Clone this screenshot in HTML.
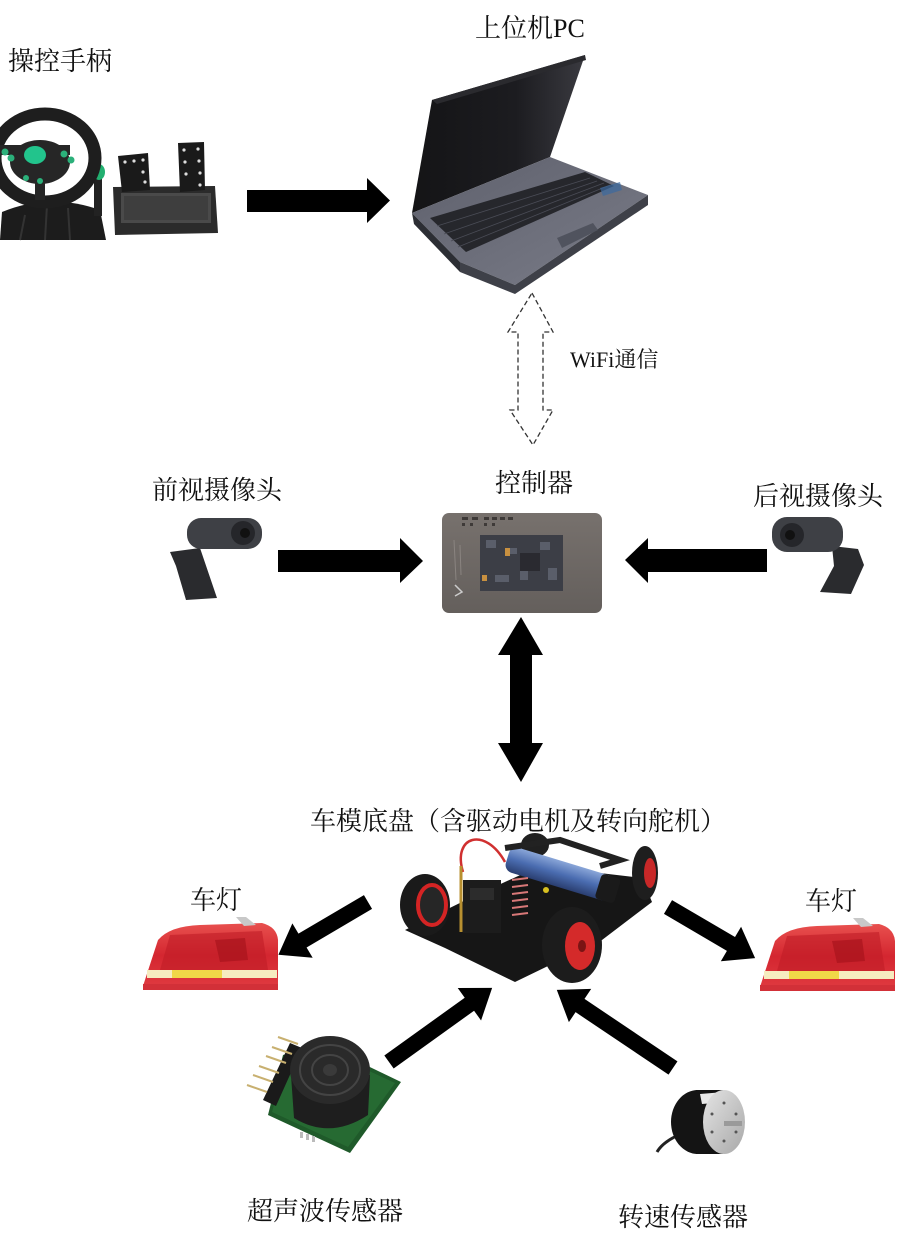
<!DOCTYPE html>
<html>
<head>
<meta charset="utf-8">
<style>
  html,body{margin:0;padding:0;background:#fff;}
  svg{display:block;}
  .t{font-family:"Liberation Serif","Noto Serif CJK SC","Noto Sans CJK SC",serif;font-size:26px;fill:#111;}
</style>
</head>
<body>
<svg width="897" height="1241" viewBox="0 0 897 1241" xmlns="http://www.w3.org/2000/svg">
  <defs>
    <linearGradient id="lid" x1="0" y1="0" x2="1" y2="0">
      <stop offset="0" stop-color="#141416"/>
      <stop offset="0.6" stop-color="#1c1c20"/>
      <stop offset="1" stop-color="#3a3a40"/>
    </linearGradient>
    <linearGradient id="base" x1="0" y1="0" x2="1" y2="1">
      <stop offset="0" stop-color="#5e606c"/>
      <stop offset="1" stop-color="#7a7c88"/>
    </linearGradient>
    <linearGradient id="ctrl" x1="0" y1="0" x2="0" y2="1">
      <stop offset="0" stop-color="#77716d"/>
      <stop offset="1" stop-color="#645f5c"/>
    </linearGradient>
    <linearGradient id="tail" x1="0" y1="0" x2="0" y2="1">
      <stop offset="0" stop-color="#e8504e"/>
      <stop offset="0.5" stop-color="#d42630"/>
      <stop offset="1" stop-color="#e03a40"/>
    </linearGradient>
    <linearGradient id="batt" x1="0" y1="0" x2="0" y2="1">
      <stop offset="0" stop-color="#8aa6d8"/>
      <stop offset="0.5" stop-color="#4a6cb0"/>
      <stop offset="1" stop-color="#2a3e70"/>
    </linearGradient>
    <linearGradient id="silver" x1="0" y1="0" x2="1" y2="1">
      <stop offset="0" stop-color="#e4e4e4"/>
      <stop offset="1" stop-color="#a8a8a8"/>
    </linearGradient>
    <g id="taillight">
      <path d="M143,986 L158,940 Q170,926 200,925 L262,923 Q277,927 278,940 L278,988 Z" fill="url(#tail)"/>
      <path d="M170,935 L262,931 L268,970 L160,970 Z" fill="#c01c26" opacity="0.6"/>
      <path d="M215,940 L245,938 L248,960 L220,962 Z" fill="#a8141c" opacity="0.7"/>
      <rect x="147" y="970" width="130" height="8" fill="#f6ecc0"/>
      <rect x="172" y="970" width="50" height="8" fill="#f0d848"/>
      <path d="M236,917 L246,917 L256,925 L244,926 Z" fill="#c8c8c8"/>
      <path d="M143,984 L278,984 L278,990 L143,990 Z" fill="#d23038"/>
    </g>
  </defs>

  <!-- ===== Labels ===== -->
  <text class="t" x="8" y="70">操控手柄</text>
  <text class="t" x="475" y="37">上位机PC</text>
  <text class="t" x="570" y="367" style="font-size:22px">WiFi通信</text>
  <text class="t" x="495" y="492">控制器</text>
  <text class="t" x="152" y="499">前视摄像头</text>
  <text class="t" x="753" y="505">后视摄像头</text>
  <text class="t" x="310" y="830">车模底盘（含驱动电机及转向舵机）</text>
  <text class="t" x="190" y="909">车灯</text>
  <text class="t" x="805" y="910">车灯</text>
  <text class="t" x="247" y="1220">超声波传感器</text>
  <text class="t" x="618" y="1226">转速传感器</text>

  <!-- ===== Steering wheel ===== -->
  <path d="M0,240 L2,212 Q50,192 100,210 L106,240 Z" fill="#1c1c1c"/>
  <path d="M20,240 L25,215 M45,240 L47,205 M70,240 L68,208" stroke="#333" stroke-width="2"/>
  <rect x="94" y="176" width="8" height="40" fill="#222"/>
  <ellipse cx="99" cy="172" rx="6" ry="8" fill="#22b070"/>
  <ellipse cx="45" cy="158" rx="50" ry="44" fill="none" stroke="#1e1e1e" stroke-width="13"/>
  <ellipse cx="40" cy="162" rx="30" ry="22" fill="#262626"/>
  <path d="M-4,150 L70,150 M40,180 L40,200" stroke="#262626" stroke-width="10"/>
  <ellipse cx="35" cy="155" rx="11" ry="9" fill="#22c48c"/>
  <circle cx="5" cy="152" r="3.5" fill="#2bb07a"/>
  <circle cx="11" cy="158" r="3.5" fill="#2bb07a"/>
  <circle cx="64" cy="154" r="3.5" fill="#2bb07a"/>
  <circle cx="71" cy="160" r="3.5" fill="#2bb07a"/>
  <circle cx="26" cy="178" r="3" fill="#2bb07a"/>
  <circle cx="40" cy="181" r="3" fill="#2bb07a"/>

  <!-- pedals -->
  <path d="M113,187 L215,186 L218,233 L115,235 Z" fill="#2b2b2b"/>
  <rect x="121" y="193" width="90" height="30" fill="#4a4a4a"/>
  <rect x="124" y="196" width="84" height="24" fill="#3e3e3e"/>
  <path d="M118,156 L148,153 L150,190 L122,192 Z" fill="#1a1a1a"/>
  <path d="M178,143 L204,142 L205,190 L180,192 Z" fill="#1a1a1a"/>
  <g fill="#ddd">
    <circle cx="125" cy="162" r="1.6"/><circle cx="134" cy="161" r="1.6"/><circle cx="143" cy="160" r="1.6"/>
    <circle cx="143" cy="172" r="1.6"/><circle cx="145" cy="182" r="1.6"/>
    <circle cx="184" cy="150" r="1.6"/><circle cx="198" cy="149" r="1.6"/>
    <circle cx="185" cy="162" r="1.6"/><circle cx="199" cy="161" r="1.6"/>
    <circle cx="186" cy="174" r="1.6"/><circle cx="200" cy="173" r="1.6"/>
    <circle cx="200" cy="185" r="1.6"/>
  </g>

  <!-- arrow handle -> PC -->
  <polygon points="247,190 367,190 367,178 390,200.5 367,223 367,212 247,212" fill="#000"/>

  <!-- ===== Laptop ===== -->
  <polygon points="432,100 585,55 550,157 412,213" fill="url(#lid)"/>
  <polygon points="432,100 585,55 586,60 437,104" fill="#2a2a2e"/>
  <polygon points="412,213 550,157 648,195 515,285 460,262" fill="url(#base)"/>
  <polygon points="460,262 515,285 648,195 648,205 515,294 460,272" fill="#3e4048"/>
  <polygon points="412,213 460,262 460,272 414,224" fill="#2c2e34"/>
  <polygon points="430,218 585,172 614,186 466,252" fill="#26272c"/>
  <g stroke="#4a4c56" stroke-width="0.8">
    <line x1="437" y1="226" x2="590" y2="178"/>
    <line x1="444" y1="234" x2="597" y2="181"/>
    <line x1="451" y1="241" x2="604" y2="183"/>
    <line x1="458" y1="247" x2="610" y2="185"/>
  </g>
  <polygon points="557,238 593,223 598,230 562,248" fill="#50535e"/>
  <polygon points="600,188 620,182 622,190 603,196" fill="#3a6aa0" opacity="0.7"/>

  <!-- WiFi dashed double arrow -->
  <polygon points="532,293 553,332 543,332 543,410 553,410 533,445 510,410 518,410 518,332 508,332"
           fill="#fff" stroke="#333" stroke-width="1.3" stroke-dasharray="5,3"/>

  <!-- ===== Controller ===== -->
  <rect x="442" y="513" width="160" height="100" rx="7" fill="url(#ctrl)"/>
  <rect x="480" y="535" width="83" height="56" fill="#3c3e46"/>
  <g fill="#5a5e6a">
    <rect x="486" y="540" width="10" height="8"/><rect x="505" y="548" width="12" height="6"/>
    <rect x="520" y="570" width="8" height="10"/><rect x="540" y="542" width="10" height="8"/>
    <rect x="495" y="575" width="14" height="7"/><rect x="548" y="568" width="9" height="12"/>
  </g>
  <rect x="520" y="553" width="20" height="18" fill="#2a2a30"/>
  <rect x="505" y="548" width="5" height="8" fill="#c89040"/>
  <rect x="482" y="575" width="5" height="6" fill="#c89040"/>
  <g fill="#3e3a38">
    <rect x="462" y="517" width="6" height="3"/><rect x="472" y="517" width="6" height="3"/>
    <rect x="484" y="517" width="5" height="3"/><rect x="492" y="517" width="5" height="3"/>
    <rect x="500" y="517" width="5" height="3"/><rect x="508" y="517" width="5" height="3"/>
    <rect x="462" y="523" width="3" height="3"/><rect x="470" y="523" width="3" height="3"/>
    <rect x="484" y="523" width="3" height="3"/><rect x="492" y="523" width="3" height="3"/>
  </g>
  <path d="M454,540 L456,580 M460,545 L461,575" stroke="#8a8480" stroke-width="1"/>
  <path d="M455,585 L462,592 L455,596" fill="none" stroke="#ccc" stroke-width="1.5"/>

  <!-- front camera -->
  <polygon points="170,552 200,548 217,598 186,600 176,566" fill="#2a2b2e"/>
  <rect x="187" y="518" width="75" height="31" rx="14" fill="#3e4045"/>
  <circle cx="243" cy="533" r="12" fill="#25262a"/>
  <circle cx="245" cy="533" r="5" fill="#111"/>
  <!-- front arrow -->
  <polygon points="278,550 400,550 400,538 423,561 400,583 400,572 278,572" fill="#000"/>

  <!-- rear camera -->
  <polygon points="832,546 858,549 864,565 851,594 820,592 834,566" fill="#2a2b2e"/>
  <rect x="772" y="517" width="71" height="35" rx="15" fill="#3e4045"/>
  <circle cx="792" cy="535" r="12" fill="#25262a"/>
  <circle cx="790" cy="535" r="5" fill="#111"/>
  <!-- rear arrow -->
  <polygon points="767,549 648,549 648,538 625,560 648,583 648,572 767,572" fill="#000"/>

  <!-- vertical double arrow -->
  <polygon points="521,617 543,655 532,655 532,743 543,743 521,782 498,743 510,743 510,655 498,655" fill="#000"/>

  <!-- ===== Car chassis ===== -->
  <polygon points="405,930 445,948 515,982 548,966 602,940 652,902 642,878 540,866 470,898" fill="#161616"/>
  <ellipse cx="535" cy="845" rx="14" ry="12" fill="#202020"/>
  <ellipse cx="645" cy="873" rx="13" ry="27" fill="#1e1e1e"/>
  <ellipse cx="650" cy="873" rx="6" ry="15" fill="#c82828"/>
  <g transform="translate(560,874) rotate(17)">
    <rect x="-55" y="-13" width="110" height="26" rx="8" fill="url(#batt)"/>
    <rect x="40" y="-13" width="20" height="26" rx="4" fill="#1a1a1a"/>
  </g>
  <path d="M505,848 L560,840 L620,860 L600,866" fill="none" stroke="#222" stroke-width="6"/>
  <path d="M463,872 C452,836 485,826 505,862" fill="none" stroke="#d03030" stroke-width="2.5"/>
  <line x1="461" y1="866" x2="461" y2="932" stroke="#b89030" stroke-width="3"/>
  <rect x="463" y="880" width="38" height="53" fill="#1c1c1c"/>
  <rect x="470" y="888" width="24" height="12" fill="#2c2c2c"/>
  <g stroke="#d87878" stroke-width="2">
    <line x1="512" y1="880" x2="528" y2="878"/><line x1="512" y1="887" x2="528" y2="885"/>
    <line x1="512" y1="894" x2="528" y2="892"/><line x1="512" y1="901" x2="528" y2="899"/>
    <line x1="512" y1="908" x2="528" y2="906"/><line x1="512" y1="915" x2="528" y2="913"/>
  </g>
  <circle cx="546" cy="890" r="3" fill="#d8c020"/>
  <!-- left front wheel -->
  <ellipse cx="425" cy="905" rx="25" ry="31" fill="#1a1a1a"/>
  <ellipse cx="432" cy="905" rx="14" ry="20" fill="#262626" stroke="#d42424" stroke-width="4"/>
  <!-- right front wheel -->
  <ellipse cx="572" cy="945" rx="30" ry="38" fill="#1c1c1c"/>
  <ellipse cx="580" cy="946" rx="15" ry="24" fill="#d42a2a"/>
  <ellipse cx="582" cy="946" rx="4" ry="6" fill="#7a1414"/>

  <!-- ===== Tail lights ===== -->
  <use href="#taillight"/>
  <use href="#taillight" transform="translate(617,1)"/>

  <!-- diagonal arrows -->
  <polygon points="0,-8 76,-8 76,-20 104,0 76,20 76,8 0,8" fill="#000" transform="translate(368,902) rotate(149.5)"/>
  <polygon points="0,-8 73,-8 73,-20 101,0 73,20 73,8 0,8" fill="#000" transform="translate(668,907) rotate(30.4)"/>
  <polygon points="0,-8 99,-8 99,-20 127,0 99,20 99,8 0,8" fill="#000" transform="translate(389,1062) rotate(-35.7)"/>
  <polygon points="0,-8 112,-8 112,-20 140,0 112,20 112,8 0,8" fill="#000" transform="translate(673,1068) rotate(-146.1)"/>

  <!-- ===== Ultrasonic sensor ===== -->
  <polygon points="268,1115 350,1153 401,1082 320,1043 283,1055" fill="#1f5a2a"/>
  <polygon points="272,1112 348,1147 395,1083 322,1049 287,1060" fill="#266a32"/>
  <polygon points="290,1043 302,1048 276,1106 263,1100" fill="#1a1a1a"/>
  <g stroke="#c8b070" stroke-width="2">
    <line x1="278" y1="1037" x2="298" y2="1044"/>
    <line x1="272" y1="1047" x2="292" y2="1054"/>
    <line x1="266" y1="1056" x2="286" y2="1063"/>
    <line x1="259" y1="1066" x2="279" y2="1073"/>
    <line x1="253" y1="1075" x2="273" y2="1082"/>
    <line x1="247" y1="1085" x2="267" y2="1092"/>
  </g>
  <path d="M291,1075 L294,1118 Q330,1140 368,1115 L370,1075 Z" fill="#1e1e1e"/>
  <ellipse cx="330" cy="1070" rx="40" ry="34" fill="#2a2a2a"/>
  <ellipse cx="330" cy="1070" rx="30" ry="25" fill="none" stroke="#444" stroke-width="2"/>
  <ellipse cx="330" cy="1070" rx="18" ry="15" fill="none" stroke="#444" stroke-width="2"/>
  <ellipse cx="330" cy="1070" rx="7" ry="6" fill="#3a3a3a"/>
  <g fill="#bbb"><rect x="300" y="1132" width="3" height="6"/><rect x="306" y="1134" width="3" height="6"/><rect x="312" y="1136" width="3" height="6"/></g>

  <!-- ===== Encoder ===== -->
  <path d="M657,1152 Q664,1140 686,1132" fill="none" stroke="#222" stroke-width="3"/>
  <rect x="696" y="1090" width="27" height="64" fill="#121212"/>
  <ellipse cx="698" cy="1122" rx="27" ry="32" fill="#141414"/>
  <path d="M700,1094 L724,1092 L726,1102 L702,1104 Z" fill="#e8e8e8"/>
  <ellipse cx="724" cy="1122" rx="21" ry="32" fill="url(#silver)"/>
  <g fill="#555">
    <circle cx="724" cy="1103" r="1.5"/><circle cx="736" cy="1114" r="1.5"/>
    <circle cx="712" cy="1114" r="1.5"/><circle cx="724" cy="1141" r="1.5"/>
    <circle cx="736" cy="1132" r="1.5"/><circle cx="712" cy="1132" r="1.5"/>
  </g>
  <rect x="724" y="1121" width="18" height="5" fill="#9a9a9a"/>
</svg>
</body>
</html>
